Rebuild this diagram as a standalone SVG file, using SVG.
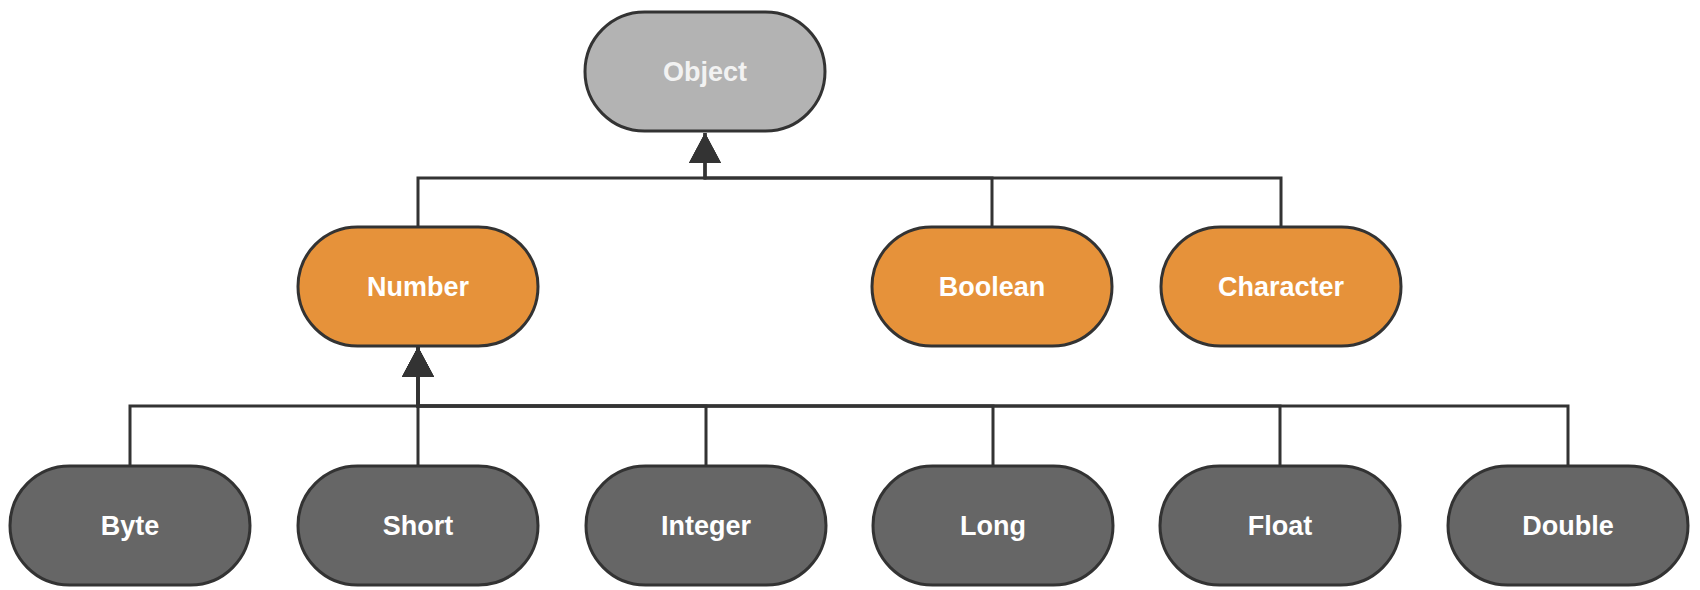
<svg xmlns="http://www.w3.org/2000/svg" width="1700" height="590" viewBox="0 0 1700 590">
<style>
.n rect{stroke:#333333;stroke-width:3}
.gray rect{fill:#B3B3B3}
.orange rect{fill:#E6923A}
.dark rect{fill:#666666}
.n text{font-family:"Liberation Sans",Arial,sans-serif;font-weight:bold;font-size:27px;fill:#FFFFFF;text-anchor:middle}
.gray text{fill:#F2F2F2}
.e path{fill:none;stroke:#333333;stroke-width:3}
</style>
<defs>
<marker id="arr" markerUnits="userSpaceOnUse" markerWidth="32" markerHeight="32" viewBox="0 0 30 32" refX="30" refY="16" orient="auto">
<path d="M0,0 L30,16 L0,32 z" fill="#333333"/>
</marker>
</defs>
<rect width="1700" height="590" fill="#FFFFFF"/>
<g id="connectors" class="e">
<path d="M418,227 V178 H705 V133" marker-end="url(#arr)"/>
<path d="M992,227 V178 H705 V133" marker-end="url(#arr)"/>
<path d="M1281,227 V178 H705 V133" marker-end="url(#arr)"/>
<path d="M130,466 V406 H418 V347" marker-end="url(#arr)"/>
<path d="M418,466 V406 H418 V347" marker-end="url(#arr)"/>
<path d="M706,466 V406 H418 V347" marker-end="url(#arr)"/>
<path d="M993,466 V406 H418 V347" marker-end="url(#arr)"/>
<path d="M1280,466 V406 H418 V347" marker-end="url(#arr)"/>
<path d="M1568,466 V406 H418 V347" marker-end="url(#arr)"/>
</g>
<g id="object" class="n gray"><rect x="585" y="12" width="240" height="119" rx="59.5"/><text x="705" y="81">Object</text></g>
<g id="number" class="n orange"><rect x="298" y="227" width="240" height="119" rx="59.5"/><text x="418" y="296">Number</text></g>
<g id="boolean" class="n orange"><rect x="872" y="227" width="240" height="119" rx="59.5"/><text x="992" y="296">Boolean</text></g>
<g id="character" class="n orange"><rect x="1161" y="227" width="240" height="119" rx="59.5"/><text x="1281" y="296">Character</text></g>
<g id="byte" class="n dark"><rect x="10" y="466" width="240" height="119" rx="59.5"/><text x="130" y="535">Byte</text></g>
<g id="short" class="n dark"><rect x="298" y="466" width="240" height="119" rx="59.5"/><text x="418" y="535">Short</text></g>
<g id="integer" class="n dark"><rect x="586" y="466" width="240" height="119" rx="59.5"/><text x="706" y="535">Integer</text></g>
<g id="long" class="n dark"><rect x="873" y="466" width="240" height="119" rx="59.5"/><text x="993" y="535">Long</text></g>
<g id="float" class="n dark"><rect x="1160" y="466" width="240" height="119" rx="59.5"/><text x="1280" y="535">Float</text></g>
<g id="double" class="n dark"><rect x="1448" y="466" width="240" height="119" rx="59.5"/><text x="1568" y="535">Double</text></g>
</svg>
